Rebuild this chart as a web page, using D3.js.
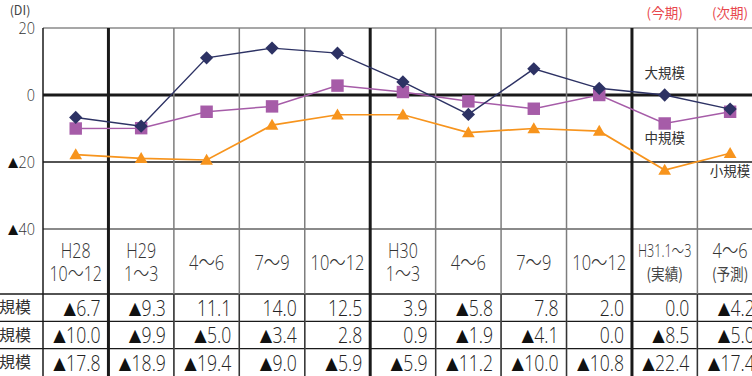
<!DOCTYPE html>
<html>
<head>
<meta charset="utf-8">
<script src="https://cdn.jsdelivr.net/npm/d3@7"></script>
<style>
  html, body { margin: 0; padding: 0; background: #fff; }
  svg { display: block; }
  .num { font-family: "Open Sans", "Noto Sans CJK JP", sans-serif; font-weight: 300; }
  .jp { font-family: "Noto Sans CJK JP", sans-serif; }
</style>
</head>
<body>
<svg id="chart" width="752" height="376"></svg>
<script>
// Business conditions DI by company size (quarterly)
const categories = [
  ["H28", "10～12"], ["H29", "1～3"], ["4～6"], ["7～9"], ["10～12"],
  ["H30", "1～3"], ["4～6"], ["7～9"], ["10～12"],
  ["H31.1～3", "(実績)"], ["4～6", "(予測)"]
];
const large  = [-6.7, -9.3, 11.1, 14.0, 12.5, 3.9, -5.8, 7.8, 2.0, 0.0, -4.2];
const medium = [-10.0, -9.9, -5.0, -3.4, 2.8, 0.9, -1.9, -4.1, 0.0, -8.5, -5.0];
const small  = [-17.8, -18.9, -19.4, -9.0, -5.9, -5.9, -11.2, -10.0, -10.8, -22.4, -17.4];
const seriesNames = ["大規模", "中規模", "小規模"];
const yTicks = [20, 0, -20, -40];
const yearBreaks = [1, 5, 9];   // column indexes where a new fiscal year starts
const periodLabels = ["(今期)", "(次期)"];

const svg = d3.select("#chart");
const left = 43, colW = 65.44;
const idx = d3.range(categories.length);
const x = d3.scaleBand().domain(idx).range([left, left + colW * categories.length]).padding(0);
const y = d3.scaleLinear().domain([-40, 20]).range([229, 28]);
const right = x.range()[1];

const headBottom = 294, rowH = 27.3;
const tableBottom = 376;

const fmt = v => (v < 0 ? "▲" : "") + Math.abs(v).toFixed(1);

// condensed text: horizontally squeezed around its anchor point;
// a leading ▲ (negative mark) is set a little smaller than the digits
function narrow(g, px, py, txt, size, anchor, sx, fill, cls = "num") {
  const t = g.append("text").attr("class", cls)
    .attr("transform", `translate(${px},${py}) scale(${sx},1)`)
    .attr("dy", "0.36em").attr("text-anchor", anchor)
    .attr("font-size", size).attr("fill", fill);
  if (txt.startsWith("▲")) {
    t.append("tspan").attr("font-size", "0.74em").attr("fill", "#111").text("▲");
    t.append("tspan").text(txt.slice(1));
  } else {
    t.text(txt);
  }
  return t;
}

// horizontal grid lines
const gridStyle = {20: ["#8a8a8a", 1.6], 0: ["#1a1a1a", 3], [-20]: ["#1a1a1a", 1.4], [-40]: ["#8a8a8a", 2]};
svg.append("g").selectAll("line").data(yTicks).join("line")
  .attr("x1", left).attr("x2", right)
  .attr("y1", d => y(d)).attr("y2", d => y(d))
  .attr("stroke", d => gridStyle[d][0]).attr("stroke-width", d => gridStyle[d][1]);

// table row lines
svg.append("g").selectAll("line").data(d3.range(3)).join("line")
  .attr("x1", 0).attr("x2", right)
  .attr("y1", i => headBottom + i * rowH).attr("y2", i => headBottom + i * rowH)
  .attr("stroke", "#1a1a1a").attr("stroke-width", 1.3);

// vertical column lines
const vlines = d3.range(categories.length).map(i => x(i));
svg.append("g").selectAll("line").data(vlines).join("line")
  .attr("x1", d => d).attr("x2", d => d)
  .attr("y1", y(20)).attr("y2", tableBottom)
  .attr("stroke", (d, i) => i === 0 ? "#1a1a1a" : (yearBreaks.includes(i) ? "#1a1a1a" : "#7d7d7d"))
  .attr("stroke-width", (d, i) => i === 0 ? 1.5 : (yearBreaks.includes(i) ? 3 : 1.5));
svg.append("g").selectAll("line").data(vlines.filter((d, i) => i > 0 && !yearBreaks.includes(i))).join("line")
  .attr("x1", d => d).attr("x2", d => d)
  .attr("y1", headBottom).attr("y2", tableBottom)
  .attr("stroke", "#333").attr("stroke-width", 1.3);

// y axis labels
const ya = svg.append("g");
yTicks.forEach(d => narrow(ya, 35, y(d), (d < 0 ? "▲" : "") + Math.abs(d), 17, "end", 0.85, "#333"));
svg.append("text").attr("class", "jp")
  .attr("x", 20).attr("y", 11).attr("dy", "0.35em").attr("text-anchor", "middle")
  .attr("font-size", 12.5).attr("fill", "#444").text("(DI)");

// period labels
svg.append("g").selectAll("text").data(periodLabels).join("text")
  .attr("class", "jp")
  .attr("x", (d, i) => x(9 + i) + x.bandwidth() / 2).attr("y", 13)
  .attr("dy", "0.35em").attr("text-anchor", "middle")
  .attr("font-size", 13.5).attr("fill", "#e8474d").text(d => d);

// header cells
const head = svg.append("g");
categories.forEach((lines, i) => {
  const cx = x(i) + x.bandwidth() / 2;
  if (lines.length === 1) {
    narrow(head, cx, 263, lines[0], 20.5, "middle", 0.8, "#333");
  } else if (i >= 9) {
    narrow(head, cx, 251, lines[0], i === 9 ? 17.5 : 20.5, "middle", i === 9 ? 0.72 : 0.8, "#333");
    narrow(head, cx, 274, lines[1], 16, "middle", 0.85, "#444", "jp");
  } else {
    narrow(head, cx, 250.5, lines[0], 20, "middle", 0.8, "#333");
    narrow(head, cx, 274, lines[1], 20, "middle", 0.8, "#333");
  }
});

// data table
const rows = [large, medium, small];
const tbl = svg.append("g");
rows.forEach((vals, r) => {
  const cy = headBottom + rowH * r + rowH / 2;
  tbl.append("text").attr("class", "jp")
    .attr("x", 31).attr("y", cy).attr("dy", "0.36em").attr("text-anchor", "end")
    .attr("font-size", 16).attr("fill", "#333").text(seriesNames[r]);
  vals.forEach((v, i) => narrow(tbl, x(i) + x.bandwidth() - 8, cy + 0.5, fmt(v), 22, "end", 0.8, "#222"));
});

// lines and markers
const series = [
  {vals: small, color: "#f7941d", width: 1.7, sym: d3.symbolTriangle, size: 70, rot: 0},
  {vals: medium, color: "#a65ca8", width: 1.5, sym: d3.symbolSquare, size: 155, rot: 0},
  {vals: large, color: "#2d3264", width: 1.4, sym: d3.symbolSquare, size: 88, rot: 45}
];
const line = d3.line().x((d, i) => x(i) + x.bandwidth() / 2).y(d => y(d));
series.forEach(s => {
  svg.append("path").datum(s.vals)
    .attr("d", line).attr("fill", "none")
    .attr("stroke", s.color).attr("stroke-width", s.width);
  svg.append("g").selectAll("path").data(s.vals).join("path")
    .attr("d", d3.symbol().type(s.sym).size(s.size))
    .attr("transform", (d, i) => `translate(${x(i) + x.bandwidth() / 2},${y(d) + (s.sym === d3.symbolTriangle ? 1 : 0)}) rotate(${s.rot})`)
    .attr("fill", s.color);
});

// series labels
const labelPos = [[9, 73], [9, 138], [10, 171]];
svg.append("g").selectAll("text").data(seriesNames).join("text")
  .attr("class", "jp")
  .attr("x", (d, i) => x(labelPos[i][0]) + x.bandwidth() / 2)
  .attr("y", (d, i) => labelPos[i][1])
  .attr("dy", "0.36em").attr("text-anchor", "middle")
  .attr("font-size", 13.5).attr("fill", "#333").text(d => d);
</script>
</body>
</html>
